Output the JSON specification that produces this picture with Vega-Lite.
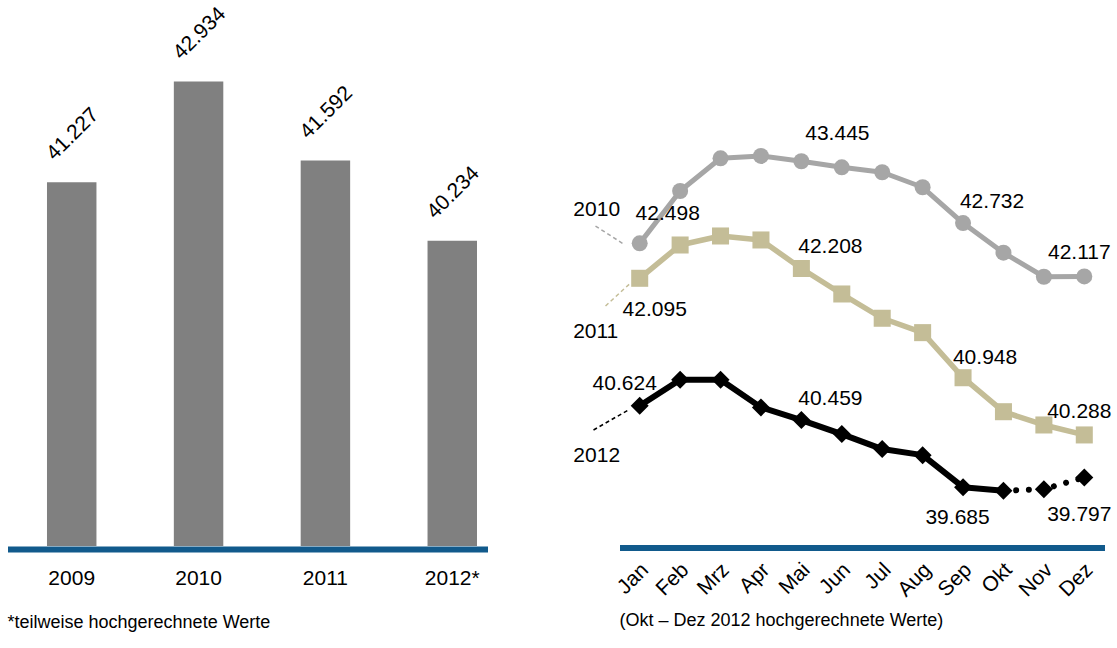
{
  "$schema": "https://vega.github.io/schema/vega-lite/v6.json",
  "padding": {"left": 7.5, "top": 0, "right": 0, "bottom": 0},
  "autosize": {"type": "pad"},
  "bounds": "flush",
  "spacing": 132,
  "config": {
    "font": "Liberation Sans",
    "view": {"stroke": null},
    "title": {"font": "Liberation Sans", "fontWeight": "normal", "color": "#000000"},
    "axis": {"labelFont": "Liberation Sans"}
  },
  "datasets": {
    "jahre": [
      {"jahr": "2009", "wert": 41.227},
      {"jahr": "2010", "wert": 42.934},
      {"jahr": "2011", "wert": 41.592},
      {"jahr": "2012*", "wert": 40.234}
    ],
    "monate": [
      {"jahr": "2010", "nr": 1, "monat": "Jan", "wert": 42.498},
      {"jahr": "2010", "nr": 2, "monat": "Feb", "wert": 43.102},
      {"jahr": "2010", "nr": 3, "monat": "Mrz", "wert": 43.479},
      {"jahr": "2010", "nr": 4, "monat": "Apr", "wert": 43.506},
      {"jahr": "2010", "nr": 5, "monat": "Mai", "wert": 43.445},
      {"jahr": "2010", "nr": 6, "monat": "Jun", "wert": 43.375},
      {"jahr": "2010", "nr": 7, "monat": "Jul", "wert": 43.318},
      {"jahr": "2010", "nr": 8, "monat": "Aug", "wert": 43.145},
      {"jahr": "2010", "nr": 9, "monat": "Sep", "wert": 42.732},
      {"jahr": "2010", "nr": 10, "monat": "Okt", "wert": 42.390},
      {"jahr": "2010", "nr": 11, "monat": "Nov", "wert": 42.113},
      {"jahr": "2010", "nr": 12, "monat": "Dez", "wert": 42.117},
      {"jahr": "2011", "nr": 1, "monat": "Jan", "wert": 42.095},
      {"jahr": "2011", "nr": 2, "monat": "Feb", "wert": 42.479},
      {"jahr": "2011", "nr": 3, "monat": "Mrz", "wert": 42.583},
      {"jahr": "2011", "nr": 4, "monat": "Apr", "wert": 42.537},
      {"jahr": "2011", "nr": 5, "monat": "Mai", "wert": 42.208},
      {"jahr": "2011", "nr": 6, "monat": "Jun", "wert": 41.914},
      {"jahr": "2011", "nr": 7, "monat": "Jul", "wert": 41.634},
      {"jahr": "2011", "nr": 8, "monat": "Aug", "wert": 41.468},
      {"jahr": "2011", "nr": 9, "monat": "Sep", "wert": 40.948},
      {"jahr": "2011", "nr": 10, "monat": "Okt", "wert": 40.556},
      {"jahr": "2011", "nr": 11, "monat": "Nov", "wert": 40.403},
      {"jahr": "2011", "nr": 12, "monat": "Dez", "wert": 40.288},
      {"jahr": "2012", "nr": 1, "monat": "Jan", "wert": 40.624},
      {"jahr": "2012", "nr": 2, "monat": "Feb", "wert": 40.924},
      {"jahr": "2012", "nr": 3, "monat": "Mrz", "wert": 40.924},
      {"jahr": "2012", "nr": 4, "monat": "Apr", "wert": 40.606},
      {"jahr": "2012", "nr": 5, "monat": "Mai", "wert": 40.459},
      {"jahr": "2012", "nr": 6, "monat": "Jun", "wert": 40.298},
      {"jahr": "2012", "nr": 7, "monat": "Jul", "wert": 40.125},
      {"jahr": "2012", "nr": 8, "monat": "Aug", "wert": 40.055},
      {"jahr": "2012", "nr": 9, "monat": "Sep", "wert": 39.685},
      {"jahr": "2012", "nr": 10, "monat": "Okt", "wert": 39.644},
      {"jahr": "2012", "nr": 11, "monat": "Nov", "wert": 39.663},
      {"jahr": "2012", "nr": 12, "monat": "Dez", "wert": 39.797}
    ],
    "leader": [
      {"jahr": "2010", "nr": -0.094, "wert": 42.698, "nr2": 0.599, "wert2": 42.491},
      {"jahr": "2011", "nr": 0.154, "wert": 41.776, "nr2": 0.747, "wert2": 42.029},
      {"jahr": "2012", "nr": -0.143, "wert": 40.345, "nr2": 0.747, "wert2": 40.584}
    ]
  },
  "hconcat": [
    {
      "width": 480,
      "height": 546,
      "data": {"name": "jahre"},
      "title": {"text": "*teilweise hochgerechnete Werte", "orient": "bottom", "anchor": "start", "frame": "group", "offset": 25, "fontSize": 18, "baseline": "top"},
      "encoding": {
        "x": {
          "field": "jahr", "type": "nominal", "sort": null,
          "scale": {"paddingInner": 0.61, "paddingOuter": 0.197, "align": 0.79, "round": false},
          "axis": {"title": null, "domainColor": "#115A8C", "domainWidth": 6, "ticks": false, "tickSize": 0, "labelAngle": 0, "labelFontSize": 21, "labelColor": "#000000", "labelPadding": 18.5, "labelBaseline": "top", "offset": 3, "grid": false}
        },
        "y": {"field": "wert", "type": "quantitative", "scale": {"domain": [35.06, 44.314], "zero": false, "nice": false}, "axis": null}
      },
      "layer": [
        {"mark": {"type": "bar", "color": "#808080"}, "encoding": {"y2": {"datum": 35.06}}},
        {
          "mark": {"type": "text", "angle": 315, "align": "center", "baseline": "alphabetic", "dx": 34.6, "dy": -27, "fontSize": 21, "color": "#000000"},
          "encoding": {"text": {"field": "wert", "type": "quantitative", "format": ".3f"}}
        }
      ]
    },
    {
      "width": 485,
      "height": 546,
      "data": {"name": "monate"},
      "title": {"text": "(Okt – Dez 2012 hochgerechnete Werte)", "orient": "bottom", "anchor": "start", "frame": "group", "offset": 12, "fontSize": 18, "baseline": "top"},
      "encoding": {
        "x": {
          "field": "nr", "type": "quantitative",
          "scale": {"domain": [0.5, 12.5], "nice": false, "zero": false},
          "axis": {"title": null, "values": [1,2,3,4,5,6,7,8,9,10,11,12], "labelExpr": "['Jan','Feb','Mrz','Apr','Mai','Jun','Jul','Aug','Sep','Okt','Nov','Dez'][datum.value-1]", "labelAngle": 315, "labelAlign": "right", "labelBaseline": "middle", "labelFontSize": 21, "labelColor": "#000000", "labelPadding": 19, "labelOffset": 5, "ticks": false, "tickSize": 0, "domainColor": "#115A8C", "domainWidth": 6, "grid": false, "offset": 1.5, "labelFlush": false, "labelOverlap": false, "labelBound": false}
        },
        "y": {"field": "wert", "type": "quantitative", "scale": {"domain": [39.007, 45.305], "nice": false, "zero": false}, "axis": null},
        "color": {"field": "jahr", "type": "nominal", "scale": {"domain": ["2010", "2011", "2012"], "range": ["#A6A6A6", "#C4BD97", "#000000"]}, "legend": null}
      },
      "layer": [
        {
          "data": {"name": "leader"},
          "mark": {"type": "rule", "strokeDash": [4, 3], "strokeWidth": 1.5},
          "encoding": {"x2": {"field": "nr2"}, "y2": {"field": "wert2"}}
        },
        {
          "transform": [{"filter": "datum.jahr != '2012' || datum.nr <= 10"}],
          "mark": {"type": "line", "strokeJoin": "round"},
          "encoding": {"strokeWidth": {"field": "jahr", "type": "ordinal", "scale": {"domain": ["2010", "2011", "2012"], "range": [5, 6, 6.5]}, "legend": null}}
        },
        {
          "transform": [{"filter": "datum.jahr == '2012' && datum.nr >= 10"}],
          "mark": {"type": "line", "strokeDash": [0.01, 12.7], "strokeCap": "round", "strokeWidth": 6}
        },
        {
          "mark": {"type": "point", "filled": true, "opacity": 1},
          "encoding": {
            "shape": {"field": "jahr", "type": "nominal", "scale": {"domain": ["2010", "2011", "2012"], "range": ["circle", "square", "diamond"]}, "legend": null},
            "size": {"field": "jahr", "type": "ordinal", "scale": {"domain": ["2010", "2011", "2012"], "range": [256, 324, 400]}, "legend": null}
          }
        },
        {
          "transform": [{"filter": "datum.jahr == '2010' && datum.nr == 1"}],
          "mark": {"type": "text", "dx": 28, "dy": -23, "fontSize": 21, "align": "center", "baseline": "alphabetic"},
          "encoding": {"text": {"field": "wert", "type": "quantitative", "format": ".3f"}, "color": {"value": "#000000"}}
        },
        {
          "transform": [{"filter": "datum.jahr == '2010' && datum.nr == 5"}],
          "mark": {"type": "text", "dx": 36, "dy": -21, "fontSize": 21, "align": "center", "baseline": "alphabetic"},
          "encoding": {"text": {"field": "wert", "type": "quantitative", "format": ".3f"}, "color": {"value": "#000000"}}
        },
        {
          "transform": [{"filter": "(datum.jahr == '2011' && datum.nr == 5) || (datum.jahr == '2010' && datum.nr == 9) || (datum.jahr == '2012' && datum.nr == 5)"}],
          "mark": {"type": "text", "dx": 29, "dy": -15, "fontSize": 21, "align": "center", "baseline": "alphabetic"},
          "encoding": {"text": {"field": "wert", "type": "quantitative", "format": ".3f"}, "color": {"value": "#000000"}}
        },
        {
          "transform": [{"filter": "datum.jahr == '2011' && datum.nr == 9"}],
          "mark": {"type": "text", "dx": 22, "dy": -14, "fontSize": 21, "align": "center", "baseline": "alphabetic"},
          "encoding": {"text": {"field": "wert", "type": "quantitative", "format": ".3f"}, "color": {"value": "#000000"}}
        },
        {
          "transform": [{"filter": "datum.jahr != '2012' && datum.nr == 12"}],
          "mark": {"type": "text", "dx": -5, "dy": -17, "fontSize": 21, "align": "center", "baseline": "alphabetic"},
          "encoding": {"text": {"field": "wert", "type": "quantitative", "format": ".3f"}, "color": {"value": "#000000"}}
        },
        {
          "transform": [{"filter": "datum.jahr == '2012' && datum.nr == 1"}],
          "mark": {"type": "text", "dx": -15, "dy": -16, "fontSize": 21, "align": "center", "baseline": "alphabetic"},
          "encoding": {"text": {"field": "wert", "type": "quantitative", "format": ".3f"}, "color": {"value": "#000000"}}
        },
        {
          "transform": [{"filter": "datum.jahr == '2011' && datum.nr == 1"}],
          "mark": {"type": "text", "dx": 15, "dy": 38, "fontSize": 21, "align": "center", "baseline": "alphabetic"},
          "encoding": {"text": {"field": "wert", "type": "quantitative", "format": ".3f"}, "color": {"value": "#000000"}}
        },
        {
          "transform": [{"filter": "datum.jahr == '2012' && datum.nr == 9"}],
          "mark": {"type": "text", "dx": -5.5, "dy": 37, "fontSize": 21, "align": "center", "baseline": "alphabetic"},
          "encoding": {"text": {"field": "wert", "type": "quantitative", "format": ".3f"}, "color": {"value": "#000000"}}
        },
        {
          "transform": [{"filter": "datum.jahr == '2012' && datum.nr == 12"}],
          "mark": {"type": "text", "dx": -5, "dy": 43, "fontSize": 21, "align": "center", "baseline": "alphabetic"},
          "encoding": {"text": {"field": "wert", "type": "quantitative", "format": ".3f"}, "color": {"value": "#000000"}}
        },
        {
          "transform": [{"filter": "datum.jahr == '2010' && datum.nr == 1"}],
          "mark": {"type": "text", "dx": -43, "dy": -27, "fontSize": 21, "align": "center", "baseline": "alphabetic"},
          "encoding": {"text": {"field": "jahr"}, "color": {"value": "#000000"}}
        },
        {
          "transform": [{"filter": "datum.jahr == '2011' && datum.nr == 1"}],
          "mark": {"type": "text", "dx": -44, "dy": 60, "fontSize": 21, "align": "center", "baseline": "alphabetic"},
          "encoding": {"text": {"field": "jahr"}, "color": {"value": "#000000"}}
        },
        {
          "transform": [{"filter": "datum.jahr == '2012' && datum.nr == 1"}],
          "mark": {"type": "text", "dx": -43, "dy": 56, "fontSize": 21, "align": "center", "baseline": "alphabetic"},
          "encoding": {"text": {"field": "jahr"}, "color": {"value": "#000000"}}
        }
      ]
    }
  ]
}
